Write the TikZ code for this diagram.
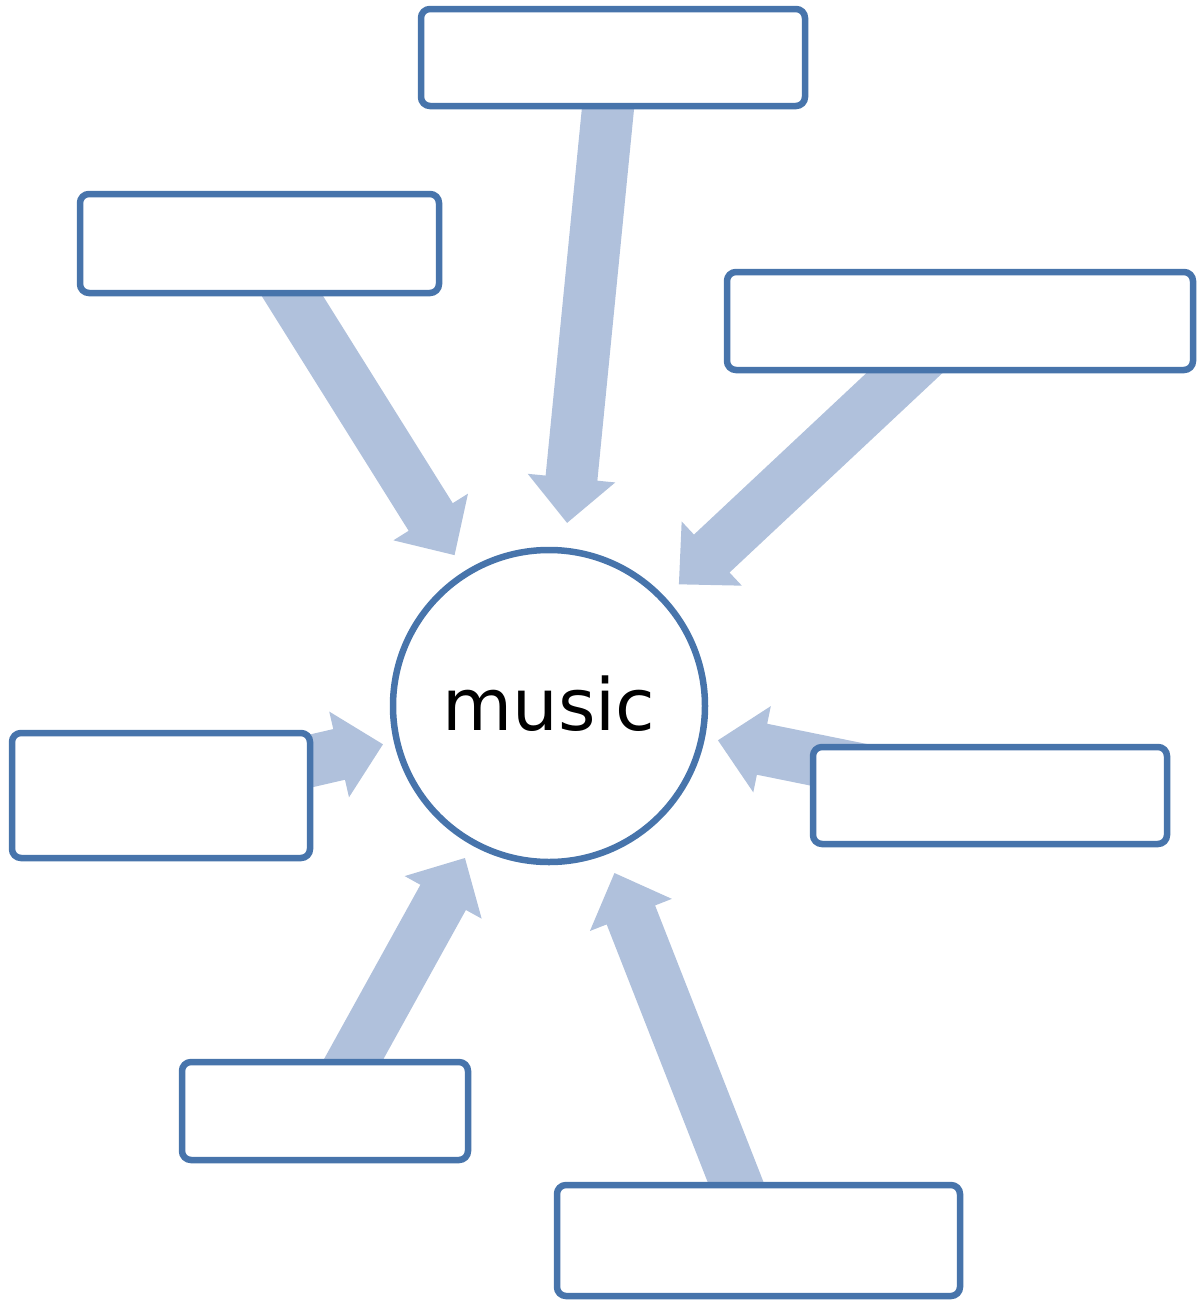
\documentclass[tikz,border=0pt]{standalone}
\usepackage{fontspec}
\newfontfamily\labelfont{DejaVu Sans}
\usetikzlibrary{calc,backgrounds}
\definecolor{boxblue}{RGB}{71,116,171}
\definecolor{arrowblue}{RGB}{176,193,220}
% block arrow from the centre of box #1 towards the hub, tip at distance #2 from the hub centre
\newcommand\blockarrow[2]{%
  \coordinate (T) at ($(music.center)!#2!(#1.center)$);
  \coordinate (B) at ($(T)!45pt!(#1.center)$);
  \fill[arrowfill] ($(#1.center)!26pt!90:(T)$) -- ($(B)!26pt!90:(T)$)
    -- ($(B)!44pt!90:(T)$) -- (T) -- ($(B)!44pt!-90:(T)$)
    -- ($(B)!26pt!-90:(T)$) -- ($(#1.center)!26pt!-90:(T)$) -- cycle;
}
\begin{document}
\begin{tikzpicture}[x=1pt,y=-1pt,
  blank/.style={draw=boxblue, line width=6.5pt, fill=white, rounded corners=9pt,
    inner sep=0pt, outer sep=0pt, rectangle},
  hub/.style={draw=boxblue, line width=6.5pt, fill=white, circle, minimum size=312pt,
    inner sep=0pt, outer sep=0pt, font=\labelfont\fontsize{72}{86}\selectfont},
  arrowfill/.style={fill=arrowblue}
]
\useasboundingbox (0,0) rectangle (1199,1301);

\node[blank, minimum width=384pt, minimum height=97pt]  (top) at (613,57.5) {};
\node[blank, minimum width=359pt, minimum height=99pt]  (ul)  at (259.5,243.5) {};
\node[blank, minimum width=466pt, minimum height=98pt]  (ru)  at (960,321) {};
\node[blank, minimum width=298pt, minimum height=125pt] (lf)  at (161,795.5) {};
\node[blank, minimum width=354pt, minimum height=97pt]  (rt)  at (990,795.5) {};
\node[blank, minimum width=286pt, minimum height=98pt]  (bl)  at (325,1111) {};
\node[blank, minimum width=403pt, minimum height=111pt] (bt)  at (758.5,1240.5) {};

\node[hub] (music) at (549,706) {\raisebox{5pt}{music}};

\begin{scope}[on background layer]
  \blockarrow{top}{184pt}
  \blockarrow{ul}{178pt}
  \blockarrow{ru}{178pt}
  \blockarrow{lf}{170.4pt}
  \blockarrow{rt}{172.4pt}
  \blockarrow{bl}{173.7pt}
  \blockarrow{bt}{179.4pt}
\end{scope}
\end{tikzpicture}
\end{document}
